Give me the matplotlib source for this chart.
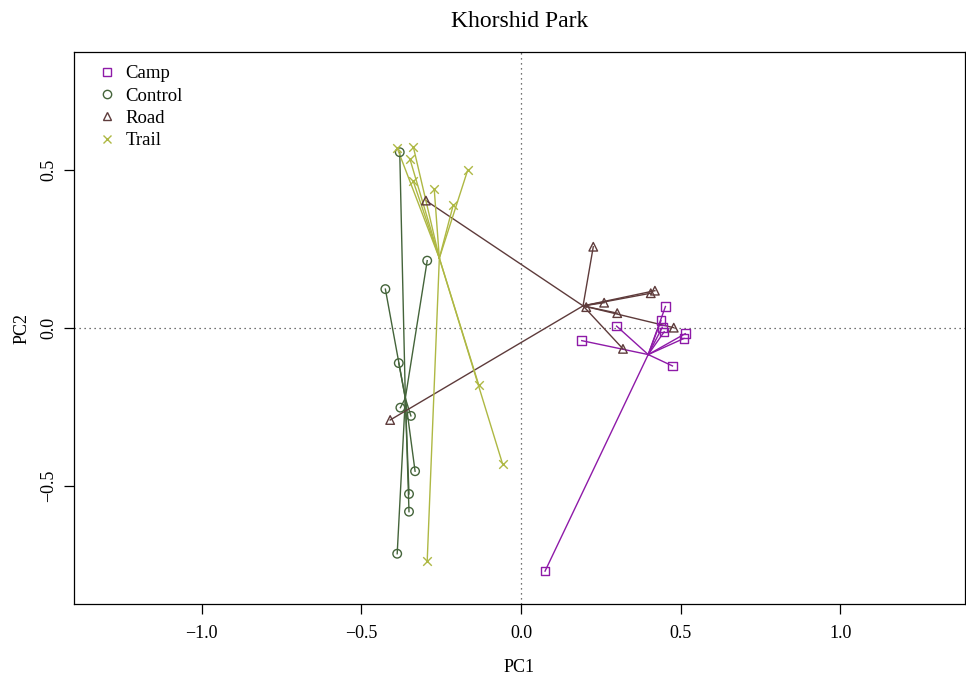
import numpy as np
import matplotlib.pyplot as plt
from matplotlib.lines import Line2D

plt.rcParams['font.family'] = ['Liberation Serif', 'DejaVu Serif']

groups = ['Camp', 'Control', 'Road', 'Trail']
colors = ['#8E1AA8', '#44643A', '#5E3B3B', '#AEB843']
markers = ['s', 'o', '^', 'x']

camp_x = [0.452, 0.438, 0.442, 0.448, 0.514, 0.510, 0.474, 0.299, 0.190, 0.075]
camp_y = [0.068, 0.023, 0.002, -0.012, -0.018, -0.033, -0.120, 0.006, -0.040, -0.769]

control_x = [-0.380, -0.425, -0.294, -0.383, -0.378, -0.345, -0.332, -0.351, -0.351, -0.388]
control_y = [0.556, 0.123, 0.213, -0.111, -0.252, -0.278, -0.453, -0.525, -0.581, -0.714]

road_x = [0.226, 0.419, 0.406, 0.260, 0.204, 0.301, 0.319, 0.478, -0.298, -0.410]
road_y = [0.257, 0.118, 0.110, 0.080, 0.066, 0.047, -0.066, 0.001, 0.403, -0.291]

trail_x = [-0.388, -0.337, -0.348, -0.338, -0.272, -0.167, -0.2125, -0.133, -0.058, -0.294]
trail_y = [0.569, 0.571, 0.534, 0.465, 0.439, 0.500, 0.389, -0.179, -0.430, -0.737]

# group centroids (spider centres)
cent_x = [0.398, -0.3625, 0.194, -0.256]
cent_y = [-0.084, -0.222, 0.070, 0.221]

xs = [camp_x, control_x, road_x, trail_x]
ys = [camp_y, control_y, road_y, trail_y]

fig = plt.figure(figsize=(9.66, 6.78), dpi=100)
ax = fig.add_axes([74 / 966, 74 / 678, (965 - 74) / 966, (604 - 52) / 678])

ax.axhline(0, color='#444444', linestyle=(0, (1, 3)), linewidth=0.9, zorder=1)
ax.axvline(0, color='#444444', linestyle=(0, (1, 3)), linewidth=0.9, zorder=1)

for g in range(4):
    for px, py in zip(xs[g], ys[g]):
        ax.plot([cent_x[g], px], [cent_y[g], py], color=colors[g], linewidth=1.0, zorder=2)
    if markers[g] == 'x':
        ax.scatter(xs[g], ys[g], marker='x', s=38, color=colors[g], linewidths=1.0, zorder=3)
    else:
        ax.scatter(xs[g], ys[g], marker=markers[g], s=38, facecolors='none',
                   edgecolors=colors[g], linewidths=1.0, zorder=3)

ax.set_xlim(-1.40, 1.39)
ax.set_ylim(-0.873, 0.873)
ax.set_xticks([-1.0, -0.5, 0.0, 0.5, 1.0])
ax.set_yticks([-0.5, 0.0, 0.5])
ax.set_xticklabels(['\u22121.0', '\u22120.5', '0.0', '0.5', '1.0'])
ax.set_yticklabels(['\u22120.5', '0.0', '0.5'], rotation=90, va='center')
ax.tick_params(direction='out', length=7, width=0.9, labelsize=13)
ax.tick_params(axis='x', pad=8)
ax.tick_params(axis='y', pad=5)
for s in ax.spines.values():
    s.set_linewidth(0.9)

ax.set_xlabel('PC1', fontsize=13, labelpad=12)
ax.set_ylabel('PC2', fontsize=13, labelpad=7)
ax.set_title('Khorshid Park', fontsize=17, pad=18)

handles = []
for g in range(4):
    if markers[g] == 'x':
        h = Line2D([], [], linestyle='none', marker='x', color=colors[g], markersize=6, markeredgewidth=1.0)
    else:
        h = Line2D([], [], linestyle='none', marker=markers[g], markerfacecolor='none',
                   markeredgecolor=colors[g], markersize=6, markeredgewidth=1.0)
    handles.append(h)
ax.legend(handles, groups, loc='upper left', frameon=False, fontsize=13.5,
          handletextpad=0.25, labelspacing=0.28, borderaxespad=0.3, handlelength=1.5,
          bbox_to_anchor=(0.006, 1.0))

fig.savefig('out.png', dpi=100)
